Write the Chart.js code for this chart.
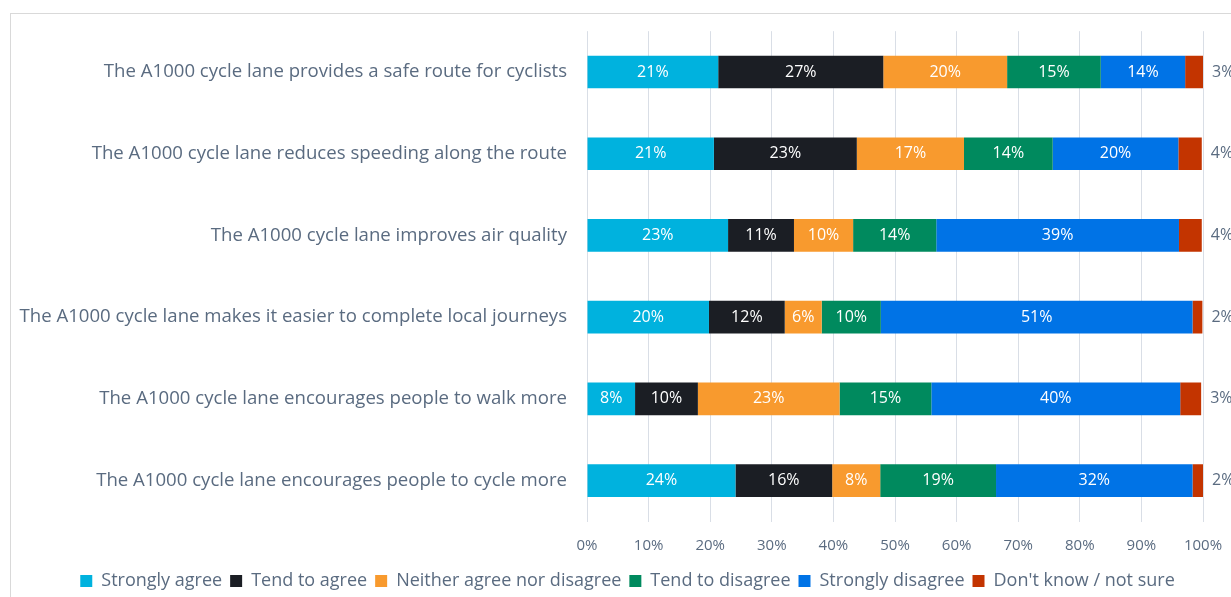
<!DOCTYPE html>
<html>
<head>
<meta charset="utf-8">
<script src="https://cdn.jsdelivr.net/npm/chart.js@4/dist/chart.umd.min.js"></script>
<style>
  html, body { margin: 0; padding: 0; background: #fff; overflow: hidden; }
  #wrap { position: relative; width: 1231px; height: 597px; }
  #frame { position: absolute; left: 10px; top: 13px; width: 1240px; height: 600px; border: 1px solid #d9d9d9; box-sizing: border-box; }
  canvas { position: absolute; left: 0; top: 0; }
</style>
</head>
<body>
<div id="wrap">
  <div id="frame"></div>
  <canvas id="c" width="1231" height="597"></canvas>
</div>
<script>
const categories = [
  "The A1000 cycle lane provides a safe route for cyclists",
  "The A1000 cycle lane reduces speeding along the route",
  "The A1000 cycle lane improves air quality",
  "The A1000 cycle lane makes it easier to complete local journeys",
  "The A1000 cycle lane encourages people to walk more",
  "The A1000 cycle lane encourages people to cycle more"
];
const seriesNames = ["Strongly agree", "Tend to agree", "Neither agree nor disagree", "Tend to disagree", "Strongly disagree", "Don't know / not sure"];
const stronglyAgree    = [21.3, 20.6, 22.9, 19.8, 7.8, 24.1];
const tendToAgree      = [26.8, 23.2, 10.7, 12.3, 10.2, 15.7];
const neither          = [20.1, 17.4, 9.6, 6.0, 23.0, 7.8];
const tendToDisagree   = [15.2, 14.4, 13.5, 9.6, 14.9, 18.8];
const stronglyDisagree = [13.7, 20.4, 39.4, 50.6, 40.4, 31.9];
const dontKnow         = [2.9, 3.8, 3.7, 1.6, 3.4, 1.7];
const xTicks = [0, 10, 20, 30, 40, 50, 60, 70, 80, 90, 100];
const colors = ["#00B2DE", "#1B1E24", "#F89A2E", "#008A5E", "#0073E6", "#C33400"];

const textColor = "#5A6B80";
const fontFamily = "'Open Sans', sans-serif";

const seriesValues = [stronglyAgree, tendToAgree, neither, tendToDisagree, stronglyDisagree, dontKnow];

const labelPlugin = {
  id: 'barLabels',
  afterDatasetsDraw(chart) {
    const ctx = chart.ctx;
    ctx.save();
    ctx.textBaseline = 'middle';
    chart.data.datasets.forEach((ds, di) => {
      const meta = chart.getDatasetMeta(di);
      meta.data.forEach((bar, i) => {
        const v = ds.data[i];
        const txt = Math.round(v) + '%';
        const props = bar.getProps(['x', 'y', 'base'], true);
        ctx.font = "16px " + fontFamily;
        if (di === seriesValues.length - 1) {
          ctx.fillStyle = textColor;
          ctx.textAlign = 'left';
          ctx.fillText(txt, props.x + 9, props.y);
        } else {
          ctx.fillStyle = '#ffffff';
          ctx.textAlign = 'center';
          ctx.fillText(txt, (props.x + props.base) / 2, props.y);
        }
      });
    });
    ctx.restore();
  }
};

const legendShift = {
  id: 'legendShift',
  afterLayout(chart) {
    const lg = chart.legend;
    if (!lg) return;
    lg.left += 11; lg.right += 11;
    lg.top += 3; lg.bottom += 3;
  }
};

new Chart(document.getElementById('c'), {
  type: 'bar',
  data: {
    labels: categories,
    datasets: seriesNames.map((name, i) => ({
      label: name,
      data: seriesValues[i],
      backgroundColor: colors[i],
      borderWidth: 0,
      barPercentage: 0.8,
      categoryPercentage: 0.5
    }))
  },
  options: {
    indexAxis: 'y',
    responsive: false,
    animation: false,
    layout: { padding: { left: 10, right: 8, top: 22.5, bottom: 0 } },
    scales: {
      x: {
        stacked: true,
        min: 0, max: 100,
        afterBuildTicks(scale) { scale.ticks = xTicks.map(v => ({ value: v })); },
        afterFit(scale) { scale.height = 39.5; scale.paddingRight = 28; },
        ticks: {
          callback: v => v + '%',
          color: textColor,
          font: { family: fontFamily, size: 15 },
          padding: 15
        },
        grid: { color: '#D9DEE6', drawTicks: false },
        border: { display: false }
      },
      y: {
        stacked: true,
        afterFit(scale) { scale.width = 577; },
        ticks: {
          color: textColor,
          font: { family: fontFamily, size: 18.6 },
          padding: 20
        },
        grid: { display: false, drawTicks: false },
        border: { display: false }
      }
    },
    plugins: {
      legend: {
        position: 'bottom',
        labels: {
          color: textColor,
          font: { family: fontFamily, size: 18 },
          boxWidth: 12,
          boxHeight: 12,
          padding: 8
        }
      },
      tooltip: { enabled: false }
    }
  },
  plugins: [labelPlugin, legendShift]
});
</script>
</body>
</html>
